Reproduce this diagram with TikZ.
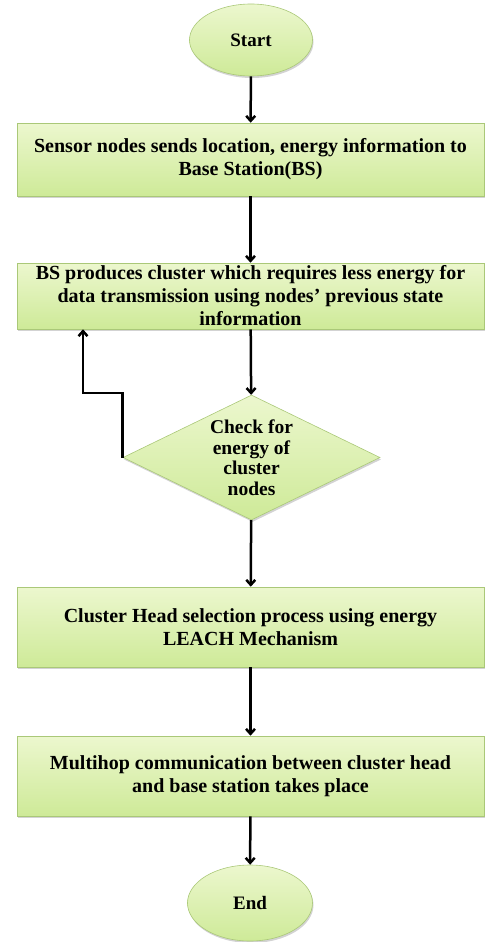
\documentclass[tikz,border=0pt]{standalone}
\usepackage{fontspec}
\setmainfont{Liberation Serif}
\usetikzlibrary{shapes.geometric,shadows,arrows.meta}

\definecolor{leaftop}{RGB}{236,247,206}
\definecolor{leafbot}{RGB}{206,234,152}
\definecolor{leafline}{RGB}{170,200,120}

\tikzset{
  greenfill/.style={draw=leafline, line width=0.6pt, top color=leaftop, bottom color=leafbot,
    drop shadow={shadow xshift=1pt, shadow yshift=-2pt, opacity=0.35}},
  procbox/.style={greenfill, rectangle, minimum width=467pt, align=center, inner ysep=1pt,
    font=\bfseries\fontsize{20}{23}\selectfont},
  terminal/.style={greenfill, ellipse, minimum width=123pt, minimum height=72pt,
    font=\bfseries\fontsize{19}{20}\selectfont},
  decision/.style={greenfill, diamond, aspect=2.2, minimum width=257pt, minimum height=125pt,
    inner sep=0pt, align=center, font=\bfseries\fontsize{19.5}{20.5}\selectfont},
  flow/.style={line width=2.5pt, -{Straight Barb[length=5pt,width=9pt]}}
}

\begin{document}
\begin{tikzpicture}[x=1pt,y=-1pt]
\useasboundingbox (0,0) rectangle (485,942);

% steps of the flow
\node[terminal] (start) at (251,40) {Start};
\node[procbox, minimum height=73pt] (sense) at (250.5,159.5)
  {Sensor nodes sends location, energy information to\\Base Station(BS)};
\node[procbox, minimum height=66pt] (cluster) at (250.5,296)
  {BS produces cluster which requires less energy for\\data transmission using nodes’ previous state\\information};
\node[decision] (check) at (251.5,457.5) {Check for\\energy of\\cluster\\nodes};
\node[procbox, minimum height=80pt] (chsel) at (250.5,627)
  {Cluster Head selection process using energy\\LEACH Mechanism};
\node[procbox, minimum height=80pt] (multihop) at (250.5,776)
  {Multihop communication between cluster head\\and base station takes place};
\node[terminal, minimum width=125pt, minimum height=76pt] (end) at (250,903) {End};

% connectors
\draw[flow] (start) -- (sense);
\draw[flow] (sense) -- (cluster);
\draw[flow] (cluster) -- (check);
\draw[flow] (check) -- (chsel);
\draw[flow] (chsel) -- (multihop);
\draw[flow] (multihop) -- (end);

% loop back
\coordinate (back) at (83,393);
\draw[flow] (check.west) |- (back) -- (back |- cluster.south);
\end{tikzpicture}
\end{document}
